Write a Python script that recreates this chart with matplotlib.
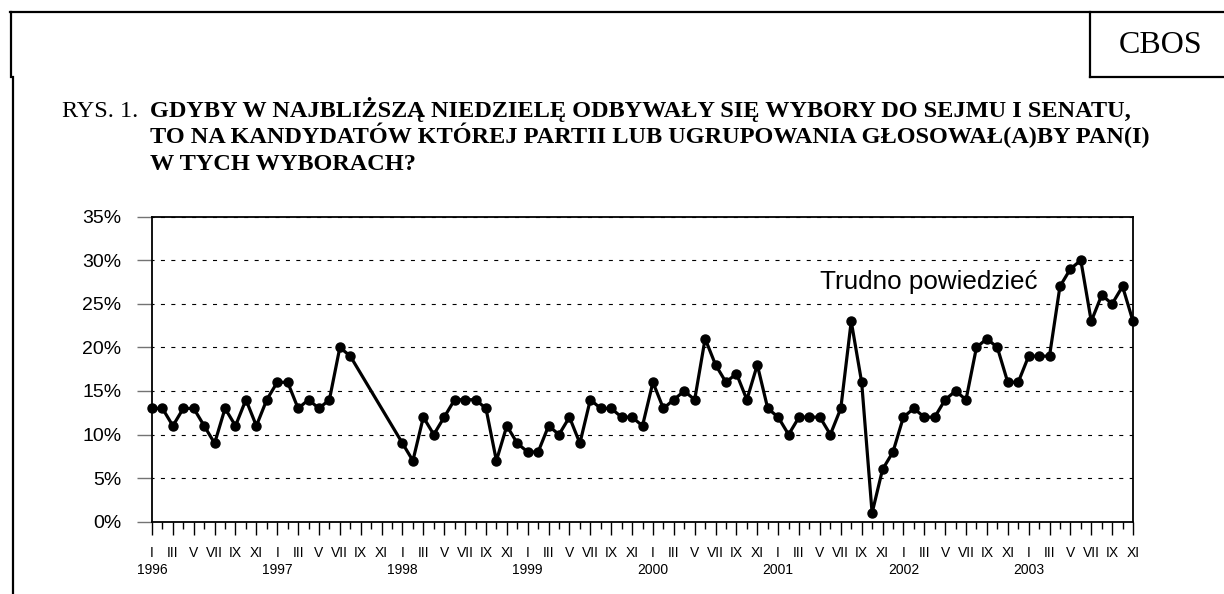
import matplotlib.pyplot as plt
from matplotlib.lines import Line2D

plt.rcParams['font.family'] = ['Liberation Sans', 'DejaVu Sans']
plt.rcParams['lines.scale_dashes'] = False

years = [1996, 1997, 1998, 1999, 2000, 2001, 2002, 2003]
month_names = ['I', 'II', 'III', 'IV', 'V', 'VI', 'VII', 'VIII', 'IX', 'X', 'XI', 'XII']

# "Trudno powiedziec" in %, month by month, None = no survey
v1996 = [13, 13, 11, 13, 13, 11, 9, 13, 11, 14, 11, 14]
v1997 = [16, 16, 13, 14, 13, 14, 20, 19, None, None, None, None]
v1998 = [9, 7, 12, 10, 12, 14, 14, 14, 13, 7, 11, 9]
v1999 = [8, 8, 11, 10, 12, 9, 14, 13, 13, 12, 12, 11]
v2000 = [16, 13, 14, 15, 14, 21, 18, 16, 17, 14, 18, 13]
v2001 = [12, 10, 12, 12, 12, 10, 13, 23, 16, 1, 6, 8]
v2002 = [12, 13, 12, 12, 14, 15, 14, 20, 21, 20, 16, 16]
v2003 = [19, 19, 19, 27, 29, 30, 23, 26, 25, 27, 23]

series = [v1996, v1997, v1998, v1999, v2000, v2001, v2002, v2003]

x = []
y = []
for k, vals in enumerate(series):
    for m, v in enumerate(vals):
        if v is not None:
            x.append(k * 12 + m)
            y.append(v)
last = len(series) * 12 - 12 + len(v2003) - 1

W, H = 1224, 594
fig = plt.figure(figsize=(W / 100, H / 100), dpi=100)
ax = fig.add_axes([152 / W, 1 - 521.7 / H, 981 / W, 305 / H])

ax.plot(x, y, color='black', lw=2.3, marker='o', ms=6.5, clip_on=False, zorder=3)
ax.set_xlim(0, last)
ax.set_ylim(0, 35)

ax.set_yticks(range(0, 36, 5))
ax.set_yticklabels([f'{v}%' for v in range(0, 36, 5)])
ax.yaxis.grid(True, color='black', lw=0.8, linestyle=(1.44, (2.9, 4.6)))

major = [i for i in range(0, last + 1, 2)]
minor = [i for i in range(1, last + 1, 2)]
labels = []
for i in major:
    lab = month_names[i % 12] + '\n'
    lab += str(years[i // 12]) if i % 12 == 0 else ' '
    labels.append(lab)
ax.set_xticks(major)
ax.set_xticklabels(labels, linespacing=1.25)
ax.set_xticks(minor, minor=True)

ax.tick_params(axis='x', which='major', length=9.5, width=1, pad=8, labelsize=10)
ax.tick_params(axis='x', which='minor', length=5, width=1)
ax.tick_params(axis='y', length=10.5, width=1, color='0.45', pad=11.5, labelsize=14)
for s in ax.spines.values():
    s.set_linewidth(1.3)

ax.text(64, 26.7, 'Trudno powiedzieć', fontsize=18.7, va='baseline')

# page frame and CBOS box
fig.add_artist(Line2D([10 / W, 1], [1 - 12 / H, 1 - 12 / H], color='black', lw=1.6))
fig.add_artist(Line2D([11 / W, 11 / W], [1 - 12 / H, 1 - 77 / H], color='black', lw=1.6))
fig.add_artist(Line2D([12.5 / W, 12.5 / W], [1 - 77 / H, 0], color='black', lw=1.6))
fig.add_artist(Line2D([1090 / W, 1090 / W], [1 - 12 / H, 1 - 77 / H], color='black', lw=1.6))
fig.add_artist(Line2D([1090 / W, 1], [1 - 77 / H, 1 - 77 / H], color='black', lw=1.6))
fig.text(1161 / W, 1 - 53 / H, 'CBOS', fontsize=23, family='Liberation Serif',
         ha='center', va='baseline')

serif = 'Liberation Serif'
fig.text(62 / W, 1 - 117 / H, 'RYS. 1.', fontsize=17.5, family=serif, va='baseline')
title = ['GDYBY W NAJBLIŻSZĄ NIEDZIELĘ ODBYWAŁY SIĘ WYBORY DO SEJMU I SENATU,',
         'TO NA KANDYDATÓW KTÓREJ PARTII LUB UGRUPOWANIA GŁOSOWAŁ(A)BY PAN(I)',
         'W TYCH WYBORACH?']
for j, line in enumerate(title):
    fig.text(150 / W, 1 - (117 + 26.5 * j) / H, line, fontsize=17.5, family=serif,
             weight='bold', va='baseline')

fig.savefig('out.png', dpi=100)
